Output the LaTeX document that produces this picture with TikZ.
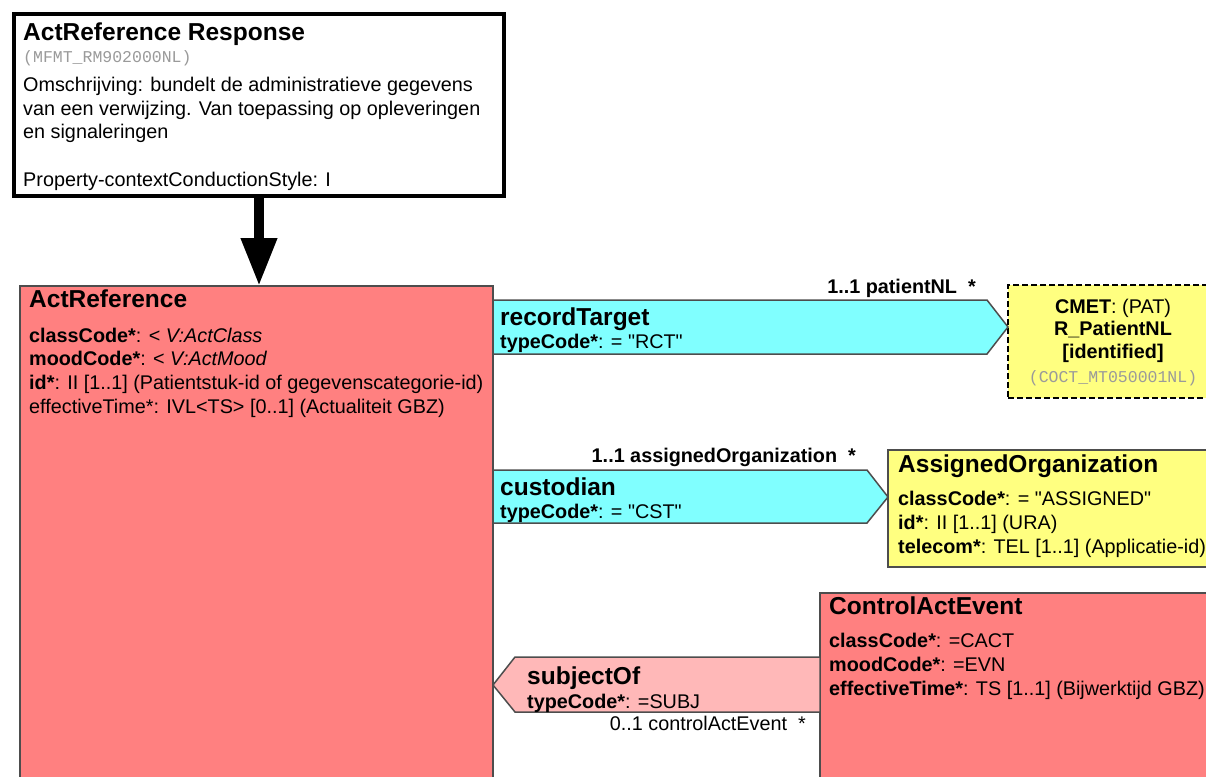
\documentclass[tikz,border=0pt]{standalone}
\usepackage{fontspec}
\setmainfont{Liberation Sans}
\setmonofont{Liberation Mono}
\usetikzlibrary{arrows.meta}

\definecolor{actred}{HTML}{FF8080}
\definecolor{linkcyan}{HTML}{80FFFF}
\definecolor{linkpink}{HTML}{FFB8B8}
\definecolor{cmetyellow}{HTML}{FFFF80}
\definecolor{edgegray}{HTML}{4D4D4D}
\definecolor{idgray}{HTML}{9A9A9A}

\newcommand{\titlefont}{\fontsize{24.5}{28}\selectfont\bfseries}
\newcommand{\attrfont}{\fontsize{19.8}{23.6}\selectfont}
\newcommand{\idfont}{\fontsize{16.5}{20}\selectfont\ttfamily}
\newcommand{\dq}{\textquotedbl}

\tikzstyle{entrybox} = [rectangle, anchor=north west, outer sep=0pt, draw=black, line width=4pt, fill=white]
\tikzstyle{classbox} = [rectangle, anchor=north west, outer sep=0pt, draw=edgegray, line width=1.5pt, fill=actred]
\tikzstyle{cmetbox} = [classbox, draw=black, dash pattern=on 6pt off 3pt, fill=cmetyellow]
\tikzstyle{title} = [anchor=base west, inner sep=0pt, font=\titlefont]
\tikzstyle{attr} = [anchor=base west, inner sep=0pt, align=left, font=\attrfont]
\tikzstyle{idtext} = [anchor=base west, inner sep=0pt, text=idgray, font=\idfont]
\tikzstyle{assoc} = [draw=edgegray, line width=1.5pt]
\tikzstyle{arrow} = [line width=10pt, -{Triangle[width=34pt,length=48pt]}]

\begin{document}
\begin{tikzpicture}[x=1pt, y=-1pt]

    \useasboundingbox (0,0) rectangle (1206,776);

    % Boxes
    \node (entry) [entrybox, minimum width=490pt, minimum height=182pt] at (14,14) {};
    \node (actref) [classbox, minimum width=473pt, minimum height=600pt] at (20,286) {};
    \node (cmet) [cmetbox, minimum width=210pt, minimum height=113pt] at (1008,285) {};
    \node (assorg) [classbox, fill=cmetyellow, minimum width=330pt, minimum height=117pt] at (888,450) {};
    \node (cae) [classbox, minimum width=400pt, minimum height=300pt] at (820,593) {};

    % Links
    \draw [arrow] (entry.south) -- (actref.north -| entry.south);
    \draw [assoc, fill=linkcyan] ([yshift=-14pt]actref.north east) -- ++(494,0) -- ([yshift=-42pt]cmet.north west) -- ++(-21,27) -- ([yshift=-68pt]actref.north east) -- cycle;
    \draw [assoc, fill=linkcyan] ([yshift=-184pt]actref.north east) -- ++(374,0) -- ([yshift=-47pt]assorg.north west) -- ++(-21,26) -- ([yshift=-237pt]actref.north east) -- cycle;
    \draw [assoc, fill=linkpink] ([yshift=-64pt]cae.north west) -- ++(-305,0) -- ([yshift=-399pt]actref.north east) -- ++(22,27) -- ([yshift=-119pt]cae.north west) -- cycle;

    % Texts (multi-line nodes sit on the baseline of their last line)
    \node (entrytitle) [title] at (23,41) {ActReference Response};
    \node (entryid) [idtext] at (23,63) {(MFMT\_RM902000NL)};
    \node (entrydesc) [attr] at (23,186) {Omschrijving: bundelt de administratieve gegevens\\van een verwijzing. Van toepassing op opleveringen\\en signaleringen\\[23.6pt]Property-contextConductionStyle: I};

    \node (actreftitle) [title] at (29,307) {ActReference};
    \node (actrefattr) [attr] at (29,413) {\textbf{classCode*}: < \textit{V:ActClass}\\\textbf{moodCode*}: < \textit{V:ActMood}\\\textbf{id*}: II [1..1] (Patientstuk-id of gegevenscategorie-id)\\effectiveTime*: IVL<TS> [0..1] (Actualiteit GBZ)};

    \node (rtname) [title] at (500,325) {recordTarget};
    \node (rttype) [attr] at (500,348) {\textbf{typeCode*}: = \dq RCT\dq};
    \node (rtrole) [attr, anchor=base east, font=\attrfont\bfseries] at (976,293) {1..1 patientNL\ \ *};

    \node (cmettext) [attr, anchor=base, align=center, font=\fontsize{19.8}{22.5}\selectfont] at (1113,358) {\textbf{CMET}: (PAT)\\\textbf{R\_PatientNL}\\\textbf{[identified]}};
    \node (cmetid) [idtext, anchor=base] at (1113,382) {(COCT\_MT050001NL)};

    \node (cstname) [title] at (500,495) {custodian};
    \node (csttype) [attr] at (500,518) {\textbf{typeCode*}: = \dq CST\dq};
    \node (cstrole) [attr, anchor=base east, font=\attrfont\bfseries] at (856,462) {1..1 assignedOrganization\ \ *};

    \node (assorgtitle) [title] at (898,472) {AssignedOrganization};
    \node (assorgattr) [attr] at (898,553) {\textbf{classCode*}: = \dq ASSIGNED\dq\\\textbf{id*}: II [1..1] (URA)\\\textbf{telecom*}: TEL [1..1] (Applicatie-id)};

    \node (caetitle) [title] at (829,614) {ControlActEvent};
    \node (caeattr) [attr] at (829,695) {\textbf{classCode*}: =CACT\\\textbf{moodCode*}: =EVN\\\textbf{effectiveTime*}: TS [1..1] (Bijwerktijd GBZ)};

    \node (sbjname) [title] at (527,684) {subjectOf};
    \node (sbjtype) [attr] at (527,708) {\textbf{typeCode*}: =SUBJ};
    \node (sbjrole) [attr, anchor=base east] at (806,730) {0..1 controlActEvent\ \ *};

\end{tikzpicture}
\end{document}
